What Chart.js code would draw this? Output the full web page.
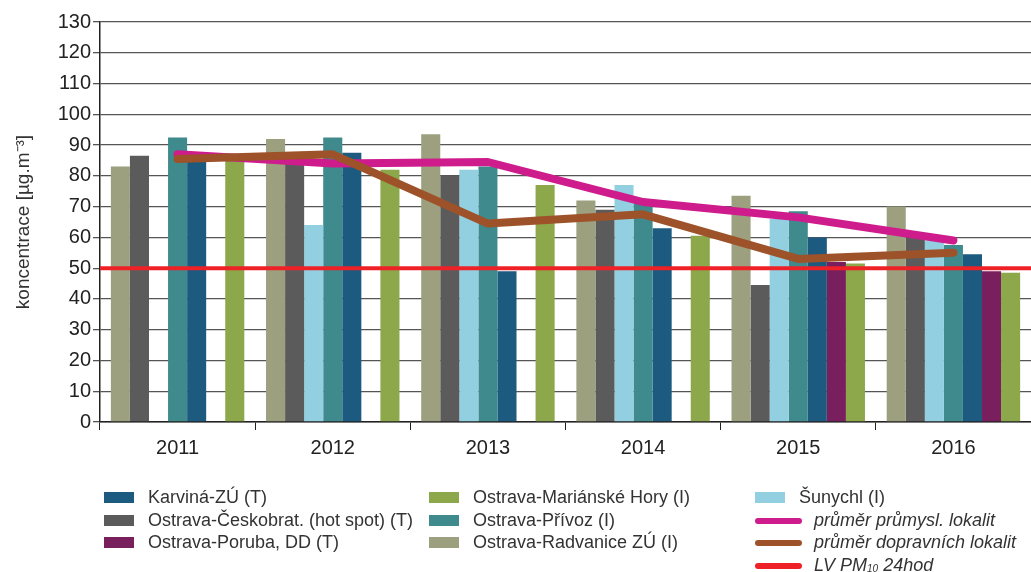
<!DOCTYPE html>
<html>
<head>
<meta charset="utf-8">
<script src="https://cdn.jsdelivr.net/npm/chart.js@4.4.1/dist/chart.umd.min.js"></script>
<style>
  html, body { margin: 0; padding: 0; background: #fff; }
  body { width: 1031px; height: 572px; overflow: hidden; position: relative; font-family: "Liberation Sans", Arial, sans-serif; }
  #wrap { position: absolute; left: 0; top: 0; width: 1031px; height: 465px; }
  #legend { position: absolute; left: 0; top: 0; width: 1031px; height: 572px; pointer-events: none; }
  .item { position: absolute; height: 22px; line-height: 22px; font-size: 18px; color: #333; white-space: nowrap; }
  .sw { position: absolute; }
  .box { width: 30px; height: 11px; top: 6px; }
  .ln { width: 47px; height: 6px; top: 9px; border-radius: 3px; }
  .txt { position: absolute; top: 0; }
  .it .txt { font-style: italic; }
  sub { font-size: 10px; vertical-align: baseline; position: relative; top: 1px; }
</style>
</head>
<body>
<div id="wrap"><canvas id="myChart"></canvas></div>
<div id="legend"></div>
<script>
const years = ["2011", "2012", "2013", "2014", "2015", "2016"];

const radvanice = [83, 92, 93.5, 72, 73.5, 70];
const ceskobrat = [86.5, 85, 80, 69, 44.5, 60];
const sunychl = [null, 64, 82, 77, 66, 59];
const privoz = [92.5, 92.5, 83, 72.5, 68.5, 57.5];
const karvina = [86, 87.5, 49, 63, 60, 54.5];
const poruba = [null, null, null, null, 52, 49];
const marHory = [85, 82, 77, 60.5, 51.5, 48.5];

const prumerPrumysl = [87, 84, 84.5, 71.5, 66.5, 59];
const prumerDoprava = [85.5, 87, 64.5, 67.5, 53, 55];
const limitValue = 50;

const colors = {
  karvina: "#1d5a80",
  ceskobrat: "#5b5b5b",
  poruba: "#7a1f5e",
  marHory: "#8ca84b",
  privoz: "#3f8a8c",
  radvanice: "#9ca07f",
  sunychl: "#92d0e1",
  prumysl: "#cf1c8c",
  doprava: "#9e5229",
  limit: "#ee2127",
};

const bar = (label, data, color) => ({
  type: "bar",
  label,
  data,
  backgroundColor: color,
  borderWidth: 0,
  barPercentage: 1,
  categoryPercentage: 0.86,
  order: 3,
});

new Chart(document.getElementById("myChart"), {
  type: "bar",
  data: {
    labels: years,
    datasets: [
      bar("Ostrava-Radvanice ZÚ (I)", radvanice, colors.radvanice),
      bar("Ostrava-Českobrat. (hot spot) (T)", ceskobrat, colors.ceskobrat),
      bar("Šunychl (I)", sunychl, colors.sunychl),
      bar("Ostrava-Přívoz (I)", privoz, colors.privoz),
      bar("Karviná-ZÚ (T)", karvina, colors.karvina),
      bar("Ostrava-Poruba, DD (T)", poruba, colors.poruba),
      bar("Ostrava-Mariánské Hory (I)", marHory, colors.marHory),
      {
        type: "line",
        label: "průměr průmysl. lokalit",
        data: prumerPrumysl,
        borderColor: colors.prumysl,
        borderWidth: 8,
        pointRadius: 0,
        borderCapStyle: "round",
        borderJoinStyle: "round",
        order: 2,
      },
      {
        type: "line",
        label: "průměr dopravních lokalit",
        data: prumerDoprava,
        borderColor: colors.doprava,
        borderWidth: 8,
        pointRadius: 0,
        borderCapStyle: "round",
        borderJoinStyle: "round",
        order: 1,
      },
      {
        // limit line across the whole plot: category index -0.5 .. n-0.5
        type: "line",
        label: "LV PM10 24hod",
        parsing: false,
        data: [
          { x: -0.5, y: limitValue },
          { x: years.length - 0.5, y: limitValue },
        ],
        borderColor: colors.limit,
        borderWidth: 4,
        pointRadius: 0,
        order: 0,
      },
    ],
  },
  options: {
    responsive: true,
    maintainAspectRatio: false,
    animation: false,
    layout: { padding: { top: 22, right: 0, left: 0, bottom: 0 } },
    plugins: {
      legend: { display: false },
      tooltip: { enabled: false },
    },
    scales: {
      x: {
        offset: true,
        grid: {
          offset: true,
          drawOnChartArea: false,
          drawTicks: true,
          tickLength: 8,
          color: "#222",
        },
        border: { color: "#222", width: 1.5 },
        ticks: {
          color: "#222",
          padding: 6,
          font: { family: "Liberation Sans", size: 20 },
        },
        afterFit: (s) => { s.height = 43; },
      },
      y: {
        min: 0,
        max: 130,
        ticks: {
          stepSize: 10,
          color: "#222",
          padding: 2,
          font: { family: "Liberation Sans", size: 20 },
        },
        grid: {
          color: "#555",
          lineWidth: 1.3,
          tickLength: 7,
        },
        border: { color: "#222", width: 1.5 },
        title: {
          display: true,
          text: "koncentrace [µg.m⁻³]",
          color: "#333",
          padding: { top: 12, bottom: 0 },
          font: { family: "Liberation Sans", size: 19 },
        },
        afterFit: (s) => { s.width = 100; },
      },
    },
  },
});

// legend in three columns, like the original
const legendItems = [
  { col: 0, row: 0, label: "Karviná-ZÚ (T)", color: colors.karvina },
  { col: 0, row: 1, label: "Ostrava-Českobrat. (hot spot) (T)", color: colors.ceskobrat },
  { col: 0, row: 2, label: "Ostrava-Poruba, DD (T)", color: colors.poruba },
  { col: 1, row: 0, label: "Ostrava-Mariánské Hory (I)", color: colors.marHory },
  { col: 1, row: 1, label: "Ostrava-Přívoz (I)", color: colors.privoz },
  { col: 1, row: 2, label: "Ostrava-Radvanice ZÚ (I)", color: colors.radvanice },
  { col: 2, row: 0, label: "Šunychl (I)", color: colors.sunychl },
  { col: 2, row: 1, label: "průměr průmysl. lokalit", color: colors.prumysl, line: true },
  { col: 2, row: 2, label: "průměr dopravních lokalit", color: colors.doprava, line: true },
  { col: 2, row: 3, label: "LV PM<sub>10</sub> 24hod", color: colors.limit, line: true },
];
const colX = [104, 429, 755];
const rowY = [486, 509, 531, 554];
const legend = document.getElementById("legend");
legendItems.forEach((it) => {
  const el = document.createElement("div");
  el.className = "item" + (it.line ? " it" : "");
  el.style.left = colX[it.col] + "px";
  el.style.top = rowY[it.row] + "px";
  el.innerHTML =
    `<span class="sw ${it.line ? "ln" : "box"}" style="background:${it.color}"></span>` +
    `<span class="txt" style="left:${it.line ? 59 : 44}px">${it.label}</span>`;
  legend.appendChild(el);
});
</script>
</body>
</html>
